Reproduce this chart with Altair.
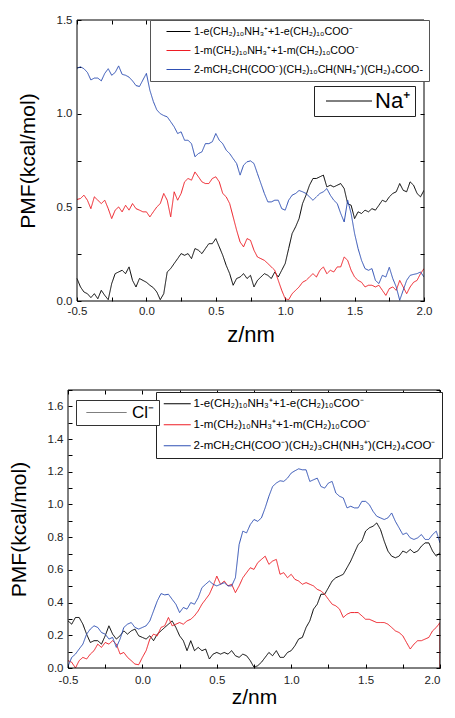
import altair as alt
import pandas as pd

FONT = "Liberation Sans"

# sampling grid of the curves (nm)
Z = [round(-0.5 + 0.025 * i, 3) for i in range(101)]
X_DOMAIN = [-0.5, 2.0]

TOP_LABELS = [
    "1-e(CH₂)₁₀NH₃⁺+1-e(CH₂)₁₀COO⁻",
    "1-m(CH₂)₁₀NH₃⁺+1-m(CH₂)₁₀COO⁻",
    "2-mCH₂CH(COO⁻)(CH₂)₁₀CH(NH₃⁺)(CH₂)₄COO-",
]
BOT_LABELS = [
    "1-e(CH₂)₁₀NH₃⁺+1-e(CH₂)₁₀COO⁻",
    "1-m(CH₂)₁₀NH₃⁺+1-m(CH₂)₁₀COO⁻",
    "2-mCH₂CH(COO⁻)(CH₂)₃CH(NH₃⁺)(CH₂)₄COO⁻",
]
COLORS = ["#000000", "#ee1c24", "#2f50b4"]
TOP_ION = "Na⁺"
BOT_ION = "Cl⁻"
TOP_Y_DOMAIN = [0, 1.5]
BOT_Y_DOMAIN = [0, 1.7]

TOP_BLACK = [0.12, 0.075, 0.048, 0.039, 0.018, 0.039, 0.012, 0.057, 0.03, 0.007,
             0.093, 0.146, 0.155, 0.164, 0.146, 0.182, 0.11, 0.075, 0.12, 0.11,
             0.1, 0.084, 0.071, 0.048, 0.007, 0.039, 0.155, 0.173, 0.2, 0.226,
             0.253, 0.244, 0.253, 0.226, 0.28, 0.271, 0.253, 0.28, 0.306, 0.306,
             0.333, 0.289, 0.244, 0.19, 0.146, 0.084, 0.12, 0.128, 0.146, 0.12,
             0.137, 0.075, 0.11, 0.128, 0.146, 0.137, 0.12, 0.155, 0.128, 0.164,
             0.2, 0.28, 0.36, 0.396, 0.44, 0.52, 0.565, 0.618, 0.654, 0.654,
             0.663, 0.672, 0.609, 0.618, 0.609, 0.618, 0.627, 0.6, 0.52, 0.511,
             0.44, 0.476, 0.467, 0.485, 0.476, 0.493, 0.485, 0.511, 0.538, 0.529,
             0.556, 0.574, 0.583, 0.627, 0.591, 0.583, 0.636, 0.618, 0.574, 0.556,
             0.591]
TOP_RED = [0.542, 0.547, 0.565, 0.538, 0.493, 0.556, 0.538, 0.52, 0.538, 0.493,
           0.44, 0.485, 0.502, 0.476, 0.511, 0.485, 0.52, 0.493, 0.485, 0.476,
           0.476, 0.449, 0.476, 0.502, 0.52, 0.574, 0.538, 0.449, 0.583, 0.538,
           0.574, 0.636, 0.654, 0.645, 0.689, 0.663, 0.636, 0.627, 0.627, 0.654,
           0.663, 0.636, 0.574, 0.556, 0.52, 0.449, 0.378, 0.315, 0.289, 0.333,
           0.324, 0.271, 0.235, 0.226, 0.217, 0.2, 0.182, 0.164, 0.11, 0.057,
           0.012, 0.007, 0.039, 0.057, 0.075, 0.1, 0.11, 0.128, 0.146, 0.128,
           0.164, 0.182, 0.146, 0.164, 0.155, 0.182, 0.182, 0.235, 0.217, 0.164,
           0.128, 0.11, 0.1, 0.075, 0.084, 0.084, 0.075, 0.084, 0.057, 0.03,
           0.066, 0.075, 0.057, 0.11, 0.075, 0.039, 0.075, 0.1, 0.11, 0.146,
           0.173]
TOP_BLUE = [1.242, 1.25, 1.24, 1.22, 1.18, 1.19, 1.19, 1.175, 1.215, 1.24,
            1.205, 1.22, 1.255, 1.21, 1.205, 1.195, 1.175, 1.15, 1.145, 1.18,
            1.215, 1.125, 1.065, 1.02, 1.0, 0.99, 0.983, 0.957, 0.93, 0.894,
            0.903, 0.858, 0.858, 0.84, 0.77, 0.787, 0.796, 0.84, 0.84, 0.85,
            0.894, 0.858, 0.84, 0.805, 0.787, 0.76, 0.734, 0.672, 0.725, 0.743,
            0.748, 0.734, 0.68, 0.627, 0.574, 0.529, 0.529, 0.538, 0.538, 0.493,
            0.485, 0.538, 0.565, 0.574, 0.59, 0.583, 0.574, 0.556, 0.538, 0.556,
            0.574, 0.583, 0.6, 0.565, 0.538, 0.52, 0.467, 0.422, 0.538, 0.467,
            0.36, 0.28, 0.217, 0.173, 0.164, 0.173, 0.11, 0.093, 0.137, 0.128,
            0.18, 0.12, 0.075, 0.004, 0.057, 0.11, 0.137, 0.142, 0.146, 0.155,
            0.128]

BOT_BLACK = [0.288, 0.268, 0.309, 0.309, 0.268, 0.207, 0.156, 0.167, 0.167, 0.146,
             0.197, 0.258, 0.207, 0.177, 0.197, 0.227, 0.207, 0.227, 0.238, 0.197,
             0.187, 0.177, 0.197, 0.167, 0.207, 0.227, 0.248, 0.268, 0.288, 0.248,
             0.197, 0.167, 0.106, 0.167, 0.106, 0.126, 0.106, 0.116, 0.055, 0.085,
             0.095, 0.085, 0.095, 0.085, 0.106, 0.075, 0.065, 0.085, 0.075, 0.045,
             0.004, 0.014, 0.035, 0.065, 0.095, 0.075, 0.106, 0.065, 0.065, 0.095,
             0.106, 0.136, 0.177, 0.187, 0.248, 0.288, 0.36, 0.39, 0.451, 0.451,
             0.491, 0.532, 0.552, 0.562, 0.573, 0.613, 0.654, 0.705, 0.755, 0.776,
             0.837, 0.857, 0.867, 0.887, 0.847, 0.776, 0.715, 0.684, 0.674, 0.684,
             0.715, 0.705, 0.725, 0.705, 0.715, 0.745, 0.765, 0.765, 0.715, 0.684,
             0.705]
BOT_RED = [0.045, 0.035, 0.0, 0.045, 0.065, 0.055, 0.085, 0.106, 0.146, 0.126,
           0.156, 0.146, 0.167, 0.146, 0.085, 0.095, 0.065, 0.045, 0.024, 0.02,
           0.065, 0.106, 0.177, 0.207, 0.197, 0.248, 0.258, 0.309, 0.258, 0.268,
           0.278, 0.268, 0.288, 0.298, 0.319, 0.349, 0.39, 0.42, 0.451, 0.502,
           0.562, 0.512, 0.532, 0.502, 0.512, 0.461, 0.502, 0.552, 0.583, 0.613,
           0.603, 0.644, 0.664, 0.684, 0.634, 0.654, 0.664, 0.573, 0.583, 0.552,
           0.573, 0.542, 0.532, 0.512, 0.522, 0.512, 0.502, 0.481, 0.471, 0.451,
           0.42, 0.39, 0.38, 0.36, 0.309, 0.329, 0.339, 0.339, 0.339, 0.319,
           0.298, 0.298, 0.288, 0.278, 0.278, 0.278, 0.268, 0.248, 0.227, 0.217,
           0.197, 0.156, 0.116, 0.146, 0.167, 0.167, 0.177, 0.187, 0.227, 0.248,
           0.278]
BOT_RED_END = [2.0, 0.0]  # final vertical drop of the red curve at z = 2.0
BOT_BLUE = [0.01, 0.065, 0.085, 0.116, 0.146, 0.207, 0.238, 0.258, 0.248, 0.217,
            0.207, 0.177, 0.187, 0.126, 0.177, 0.248, 0.268, 0.278, 0.248, 0.238,
            0.248, 0.258, 0.288, 0.349, 0.41, 0.455, 0.447, 0.451, 0.42, 0.39,
            0.339, 0.37, 0.36, 0.4, 0.39, 0.43, 0.491, 0.512, 0.532, 0.512,
            0.502, 0.512, 0.522, 0.502, 0.502, 0.552, 0.755, 0.837, 0.826, 0.877,
            0.908, 0.897, 0.918, 0.979, 1.05, 1.11, 1.131, 1.145, 1.141, 1.161,
            1.192, 1.206, 1.218, 1.212, 1.212, 1.141, 1.151, 1.161, 1.11, 1.1,
            1.131, 1.141, 1.07, 1.05, 1.04, 0.979, 0.989, 0.979, 0.979, 1.019,
            1.019, 0.999, 0.958, 0.928, 0.918, 0.908, 0.918, 0.948, 0.897, 0.857,
            0.816, 0.826, 0.796, 0.786, 0.796, 0.816, 0.786, 0.786, 0.816, 0.837,
            0.765]

X_TICKS = [-0.5, -0.25, 0.0, 0.25, 0.5, 0.75, 1.0, 1.25, 1.5, 1.75, 2.0]
TOP_Y_TICKS = [0.0, 0.25, 0.5, 0.75, 1.0, 1.25, 1.5]
BOT_Y_TICKS = [0.0, 0.1, 0.2, 0.3, 0.4, 0.5, 0.6, 0.7, 0.8, 0.9, 1.0,
               1.1, 1.2, 1.3, 1.4, 1.5, 1.6, 1.7]


def make_df(series, labels, ion, extra=None):
    rows = []
    for lab, ys in zip(labels, series):
        for i, (x, y) in enumerate(zip(Z, ys)):
            rows.append({"z": x, "pmf": y, "series": lab, "ion": ion, "idx": i})
    if extra is not None:
        lab, (x, y) = extra
        rows.append({"z": x, "pmf": y, "series": lab, "ion": ion, "idx": len(Z)})
    return pd.DataFrame(rows)


def fmt_expr(cond):
    return (f"({cond}) ? (datum.value < 0 ? '-' + format(-datum.value, '.1f') "
            f": format(datum.value, '.1f')) : ''")


HALF = "abs(datum.value*2 - round(datum.value*2)) < 0.001"
EVEN = "abs(datum.value*5 - round(datum.value*5)) < 0.001"


def panel(df, labels, ion, ydom, yticks, ycond, width, height, x_start, lab_font,
          x_lab_pad, x_title_pad, x_title_size, last_align, leg, ion_leg):
    common_ax = dict(tickSize=4, domain=False, grid=False,
                     tickColor="black", labelFont=FONT, labelColor="#222222",
                     labelOverlap=False, labelFlush=False, titleFont=FONT,
                     titleFontWeight="normal", titleColor="black")
    xs = alt.Scale(domain=X_DOMAIN, nice=False, zero=False, range=[x_start, width])
    ys = alt.Scale(domain=ydom, nice=False, zero=False)
    base = alt.Chart(df)
    lines = base.mark_line(strokeWidth=1, clip=True).encode(
        x=alt.X("z:Q", scale=xs, axis=alt.Axis(
            values=X_TICKS, labelExpr=fmt_expr(HALF), labelPadding=x_lab_pad, offset=-4,
            labelAlign={"condition": {"test": "datum.value > 1.99", "value": last_align},
                        "value": "center"},
            labelFontSize=lab_font, title="z/nm", titleFontSize=x_title_size,
            titlePadding=x_title_pad, **common_ax)),
        y=alt.Y("pmf:Q", scale=ys, axis=alt.Axis(
            values=yticks, labelExpr=fmt_expr(ycond), labelPadding=5,
            offset=-(x_start + 4), labelFontSize=lab_font, title="PMF(kcal/mol)",
            titleFontSize=21, titlePadding=18, **common_ax)),
        color=alt.Color("series:N", scale=alt.Scale(domain=labels, range=COLORS),
                        legend=alt.Legend(**leg)),
        strokeDash=alt.StrokeDash("ion:N", scale=alt.Scale(domain=[ion], range=[[1, 0]]),
                                  legend=alt.Legend(**ion_leg)),
        order="idx:Q",
        detail="series:N",
    )
    mirror = base.mark_line(opacity=0, clip=True).encode(
        x=alt.X("z:Q", scale=xs, axis=alt.Axis(
            orient="top", values=X_TICKS, labels=False, title=None, offset=-4,
            **common_ax)),
        y=alt.Y("pmf:Q", scale=ys, axis=alt.Axis(
            orient="right", values=yticks, labels=False, title=None, offset=-4,
            **common_ax)),
        detail="series:N",
    )
    frame_df = pd.DataFrame({"x0": [X_DOMAIN[0]], "x1": [X_DOMAIN[1]],
                             "y0": [ydom[0]], "y1": [ydom[1]]})
    frame = alt.Chart(frame_df).mark_rect(
        fillOpacity=0, stroke="black", strokeWidth=1).encode(
        x=alt.X("x0:Q", axis=None), x2="x1:Q",
        y=alt.Y("y0:Q", axis=None), y2="y1:Q",
    )
    return alt.layer(lines, mirror, frame).resolve_axis(
        x="independent", y="independent").properties(
        width=width, height=height, view=alt.ViewBackground(stroke=None))


def series_legend(x, y, font, size_path, lab_off, sym_off, row_pad, stroke):
    return dict(orient="none", legendX=x, legendY=y, title=None,
                symbolType=size_path, symbolSize=100, symbolStrokeWidth=1,
                symbolFillColor="transparent", labelFont=FONT, labelFontSize=font,
                labelColor="black", labelLimit=500, labelOffset=lab_off,
                symbolOffset=sym_off, rowPadding=row_pad, padding=6,
                strokeColor=stroke, fillColor="white")


def ion_legend(x, y, font, path, lab_off, sym_off, pad, stroke, sym_color):
    return dict(orient="none", legendX=x, legendY=y, title=None,
                symbolType=path, symbolSize=100, symbolStrokeWidth=1,
                symbolStrokeColor=sym_color, symbolFillColor="transparent",
                labelFont=FONT, labelFontSize=font, labelColor="black",
                labelOffset=lab_off, symbolOffset=sym_off, padding=pad,
                strokeColor=stroke, fillColor="white")


top_df = make_df([TOP_BLACK, TOP_RED, TOP_BLUE], TOP_LABELS, TOP_ION)
bot_df = make_df([BOT_BLACK, BOT_RED, BOT_BLUE], BOT_LABELS, BOT_ION,
                 extra=(BOT_LABELS[1], BOT_RED_END))

top = panel(top_df, TOP_LABELS, TOP_ION, TOP_Y_DOMAIN, TOP_Y_TICKS, HALF, 356, 281, 9, 11.5,
            4, 8, 22, "center",
            series_legend(82, 0, 10.7, "M-1,0H3.8", 17, 10, 7, "#555555"),
            ion_legend(246, 66, 22, "M-1,0H8.2", 33, 2, 4, "#222222", "black"))
bottom = panel(bot_df, BOT_LABELS, BOT_ION, BOT_Y_DOMAIN, BOT_Y_TICKS, EVEN, 372, 278, 0, 11.5,
               6, 1, 21, "right",
               series_legend(88, 2, 11.5, "M-1,0H4.4", 19, 1, 8, "#222222"),
               ion_legend(8, 10, 17, "M-1,0H7", 32, 3, 4, "#333333", "#555555"))

chart = alt.concat(top, bottom, columns=1, spacing=38).resolve_scale(
    x="independent", y="independent", color="independent", strokeDash="independent"
).resolve_legend(color="independent", strokeDash="independent").properties(
    padding={"left": 0, "top": 6, "right": 0, "bottom": 0}
).configure(background="white")

chart.save("out.html", embed_options={"renderer": "svg", "actions": False})
